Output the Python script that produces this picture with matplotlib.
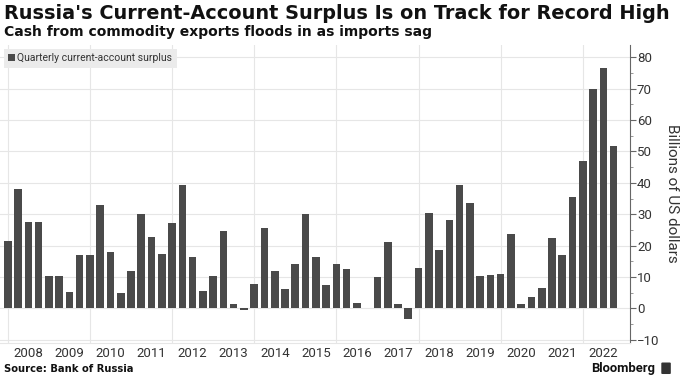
import matplotlib
matplotlib.use("Agg")
import matplotlib.pyplot as plt
from matplotlib.patches import FancyBboxPatch
from matplotlib.ticker import MultipleLocator

plt.rcParams['font.family'] = ['Roboto', 'DejaVu Sans']

# quarterly current-account surplus, billions of USD, 2007 Q4 .. 2022 Q3
years = list(range(2008, 2023))
surplus = [21.6,
           38.0, 27.6, 27.6, 10.4,
           10.4, 5.3, 17.1, 17.1,
           32.9, 17.9, 4.8, 11.9,
           29.9, 22.8, 17.3, 27.2,
           39.3, 16.2, 5.4, 10.3,
           24.7, 1.4, -0.5, 7.8,
           25.6, 11.9, 6.1, 14.0,
           29.9, 16.3, 7.4, 14.2,
           12.5, 1.7, 0.1, 9.9,
           21.1, 1.4, -3.4, 12.8,
           30.3, 18.5, 28.0, 39.2,
           33.6, 10.4, 10.6, 10.8,
           23.8, 1.2, 3.7, 6.5,
           22.3, 17.1, 35.5, 47.0,
           69.8, 76.6, 51.9]
y_ticks = [-10, 0, 10, 20, 30, 40, 50, 60, 70, 80]

bar_color = '#4a4a4a'
grid_color = '#e6e6e6'
text_color = '#333333'
head_font = ['DejaVu Sans']

fig = plt.figure(figsize=(6.8, 3.84), dpi=100)
ax = fig.add_axes([0.0, 0.1076, 0.9265, 0.7754])

x = list(range(len(surplus)))
ax.bar(x, surplus, width=0.74, color=bar_color, zorder=3,
       label='Quarterly current-account surplus')

# year label sits on the Q2 bar, gridline on the Q4 bar of odd years
year_pos = [1 + 4 * (y - 2008) + 1 for y in years]
grid_pos = [4 * (y - 2008) for y in range(2008, 2023, 2)]
ax.set_xticks(year_pos)
ax.set_xticklabels([str(y) for y in years], fontsize=9.5, color=text_color)
ax.tick_params(axis='x', length=0, pad=3)
for g in grid_pos:
    ax.axvline(g, color=grid_color, lw=0.8, zorder=1)

ax.set_xlim(-0.76, 60.6)
ax.set_ylim(-11, 84)
ax.yaxis.tick_right()
ax.yaxis.set_label_position('right')
ax.set_yticks(y_ticks)
ax.yaxis.set_minor_locator(MultipleLocator(5))
ax.tick_params(axis='y', which='major', length=4, width=0.8, color='#666666',
               labelsize=9.5, labelcolor=text_color, pad=1)
ax.tick_params(axis='y', which='minor', length=2, width=0.6, color='#888888')
for v in y_ticks:
    ax.axhline(v, color=grid_color, lw=0.8, zorder=1)

for s in ['top', 'left']:
    ax.spines[s].set_visible(False)
ax.spines['right'].set_color('#666666')
ax.spines['right'].set_linewidth(0.8)
ax.spines['bottom'].set_color(grid_color)
ax.spines['bottom'].set_linewidth(0.8)

ax.set_ylabel('Billions of US dollars', rotation=270, fontsize=11,
              color=text_color, labelpad=14)

leg = ax.legend(loc='upper left', bbox_to_anchor=(0.0, 1.0), fontsize=7.5,
                frameon=True, fancybox=False, handlelength=0.6, handleheight=0.6,
                handletextpad=0.25, borderpad=0.45, borderaxespad=0.35)
leg.get_frame().set_facecolor('#ebebeb')
leg.get_frame().set_edgecolor('none')
leg.get_frame().set_alpha(1)
for t in leg.get_texts():
    t.set_color(text_color)

fig.text(0.006, 0.966, "Russia's Current-Account Surplus Is on Track for Record High",
         fontsize=13.9, fontweight='bold', family=head_font, color='#111111',
         va='center', ha='left')
fig.text(0.006, 0.916, "Cash from commodity exports floods in as imports sag",
         fontsize=10.0, fontweight='bold', family=head_font, color='#111111',
         va='center', ha='left')
fig.text(0.006, 0.040, "Source: Bank of Russia", fontsize=7.2, fontweight='bold',
         family=head_font, color='#111111', va='center', ha='left')
fig.text(0.964, 0.041, "Bloomberg", fontsize=9.4, fontweight='bold',
         color='#111111', va='center', ha='right')
fig.patches.append(FancyBboxPatch((0.9745, 0.028), 0.010, 0.026,
                                  boxstyle='round,pad=0.002', transform=fig.transFigure,
                                  facecolor='#333333', edgecolor='none'))

fig.savefig('out.png', dpi=100)
